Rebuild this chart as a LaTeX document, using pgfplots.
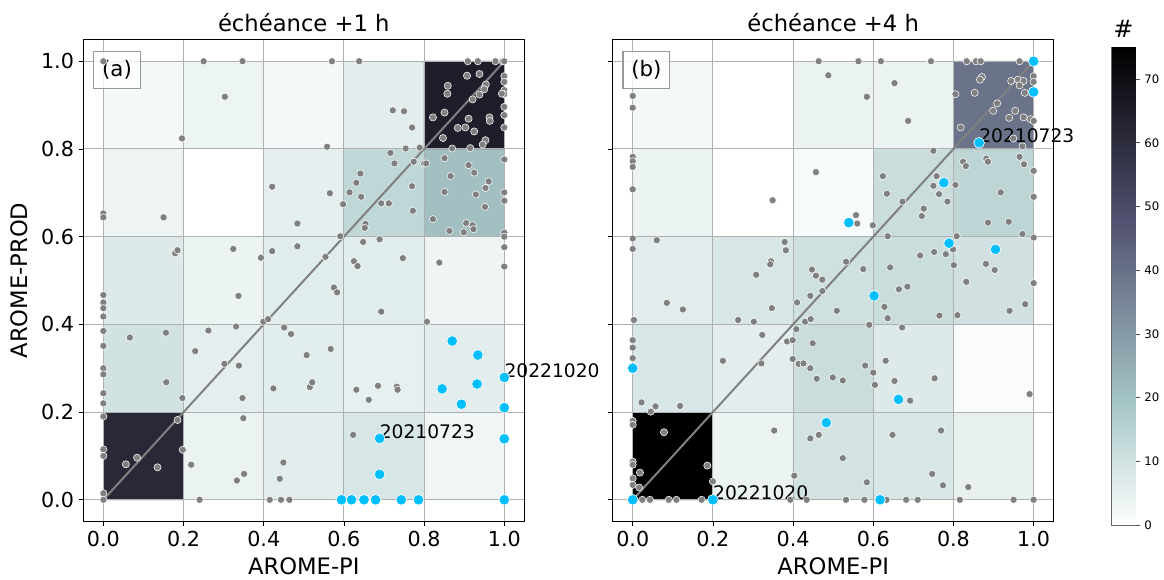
\documentclass[border=0pt]{standalone}
\usepackage{pgfplots}
\pgfplotsset{compat=1.18}
\usepackage{fontspec}
\setmainfont{DejaVu Sans}
\definecolor{ptgrey}{RGB}{128,128,128}
\definecolor{ptblue}{RGB}{0,191,255}
\definecolor{gridc}{RGB}{176,176,176}
\tikzset{
  boxlab/.style={draw=black!40, fill=white, fill opacity=0.8, text opacity=1, line width=0.8pt, minimum width=35pt, minimum height=27.5pt, inner sep=0pt, font=\fontsize{16}{19}\selectfont},
  datelab/.style={anchor=base west, inner sep=0pt, font=\fontsize{14}{16}\selectfont},
}
\pgfplotsset{
  colormap={boner}{rgb(0pt)=(1,1,1); rgb(25.3968pt)=(0.652778,0.777778,0.777778); rgb(63.4921pt)=(0.319444,0.319444,0.444444); rgb(100pt)=(0,0,0)},
  panel/.style={
    set layers, scale only axis, width=330.75pt, height=361.8pt, clip=false,
    xmin=-0.05, xmax=1.05, ymin=-0.05, ymax=1.05,
    xtick={0,0.2,0.4,0.6,0.8,1}, ytick={0,0.2,0.4,0.6,0.8,1},
    xticklabels={0.0,0.2,0.4,0.6,0.8,1.0},
    tick align=outside, tick pos=left, major tick length=3.5pt,
    grid=major, grid style={gridc, line width=0.8pt},
    colormap name=boner, point meta min=0, point meta max=75,
    tick label style={font=\fontsize{15.5}{18}\selectfont},
    axis line style={black, line width=0.6pt},
    tick style={black, line width=0.6pt},
    every axis title/.style={at={(axis description cs:0.5,1)}, anchor=base, yshift=6pt, font=\fontsize{17}{20}\selectfont},
    every axis x label/.style={at={(axis description cs:0.5,-0.1084)}, anchor=base, font=\fontsize{17}{20}\selectfont},
    every axis y label/.style={at={(axis description cs:-0.1276,0.5)}, rotate=90, anchor=base, font=\fontsize{17}{20}\selectfont},
  },
  greypts/.style={only marks, mark=*, mark size=2.7pt, mark options={fill=ptgrey, draw=white, line width=0.4pt}},
  bluepts/.style={only marks, mark=*, mark size=4pt, mark options={fill=ptblue, draw=white, line width=0.5pt}},
  diag/.style={ptgrey, line width=1.5pt},
}
\begin{document}
\begin{tikzpicture}

% ---------------- panel (a)
\begin{axis}[panel, at={(62.5pt,43.7pt)}, anchor=south west,
  title={échéance +1 h}, xlabel={AROME-PI}, ylabel={AROME-PROD},
  yticklabels={0.0,0.2,0.4,0.6,0.8,1.0}]
\addplot[matrix plot*, mesh/cols=5, point meta=explicit, on layer=axis background] table[meta=c] {
x y c
0.1 0.1 61.6
0.3 0.1 4.5
0.5 0.1 6
0.7 0.1 8.5
0.9 0.1 3.3
0.1 0.3 9.8
0.3 0.3 5.7
0.5 0.3 6.2
0.7 0.3 5.2
0.9 0.3 6
0.1 0.5 7
0.3 0.5 4
0.5 0.5 6.5
0.7 0.5 6.5
0.9 0.5 3.5
0.1 0.7 3.6
0.3 0.7 0
0.5 0.7 5.5
0.7 0.7 13.6
0.9 0.7 20.6
0.1 0.9 2.3
0.3 0.9 3.8
0.5 0.9 2.3
0.7 0.9 6
0.9 0.9 64.9
};
\addplot[diag] coordinates {(0,0) (1,1)};
\addplot[greypts] coordinates {
(0,1) (0.25,1) (0.347,1) (0.57,1) (0.638,1) (0.909,1) (0.934,1) (0.978,1) (0.996,1) (1,1)
(0.303,0.919) (0.196,0.824) (0.722,0.888) (0.75,0.886) (0.77,0.849) (0.558,0.805) (0.754,0.801) (0.789,0.803)
(0.907,0.967) (0.938,0.971) (0.859,0.944) (0.858,0.926) (0.954,0.947) (0.95,0.936) (0.938,0.924) (0.921,0.913)
(0.851,0.883) (0.822,0.872) (0.911,0.869) (0.963,0.872) (0.964,0.864) (0.884,0.848) (0.903,0.849) (0.925,0.84)
(0.847,0.825) (0.953,0.82) (0.946,0.81) (0.87,0.801) (0.915,0.802)
(1,0.966) (1,0.953) (1,0.934) (1,0.925) (1,0.896) (1,0.877) (1,0.849) (0.994,0.926)
(0.716,0.791) (0.726,0.767) (0.774,0.771) (0.8,0.767) (0.805,0.767) (0.851,0.779) (0.911,0.763) (0.925,0.746)
(0.866,0.738) (0.961,0.726) (0.953,0.711) (0.851,0.702) (0.929,0.696) (0.952,0.668) (0.822,0.64) (0.863,0.613)
(0.905,0.631) (0.921,0.626) (0.923,0.617) (0.899,0.61) (1,0.776) (1,0.701) (1,0.682) (1,0.609) (1,0.6)
(0.641,0.744) (0.631,0.723) (0.614,0.701) (0.643,0.691) (0.598,0.674) (0.693,0.676) (0.712,0.676) (0.77,0.715)
(0.772,0.659) (0.654,0.629) (0.652,0.62) (0.591,0.601) (0.565,0.699) (0.421,0.714) (0.484,0.63) (0,0.653) (0,0.644) (0.15,0.644)
(0.648,0.588) (0.689,0.594) (0.179,0.562) (0.185,0.569) (0.324,0.572) (0.393,0.552) (0.421,0.567) (0.484,0.578)
(0.554,0.554) (0.625,0.544) (0.634,0.533) (0.747,0.551) (0.838,0.541) (1,0.576) (1,0.532) (0.575,0.484) (0.583,0.473)
(0.337,0.465) (0.693,0.429) (0.807,0.406)
(0,0.467) (0,0.45) (0,0.437) (0,0.418) (0,0.385) (0,0.351) (0,0.3) (0,0.286) (0,0.243) (0,0.22) (0,0.19) (0,0.115) (0,0.1) (0,0.015) (0,0)
(0.066,0.37) (0.156,0.381) (0.157,0.268) (0.262,0.386) (0.331,0.395) (0.399,0.406) (0.411,0.412) (0.451,0.393) (0.468,0.378)
(0.229,0.339) (0.302,0.31) (0.338,0.306) (0.507,0.33) (0.567,0.344) (0.424,0.254) (0.515,0.257) (0.521,0.268)
(0.347,0.232) (0.197,0.232) (0.631,0.251) (0.662,0.228) (0.685,0.26) (0.732,0.258) (0.734,0.251) (0.349,0.186)
(0.185,0.182) (0.623,0.148) (0.198,0.114) (0.219,0.08) (0.056,0.081) (0.084,0.096) (0.135,0.074) (0.449,0.085)
(0.44,0.048) (0.333,0.044) (0.351,0.059) (0.24,0) (0.415,0) (0.443,0) (0.464,0)
};
\addplot[bluepts] coordinates {
(0.87,0.362) (0.934,0.33) (0.845,0.253) (0.932,0.264) (0.893,0.218) (1,0.279) (1,0.21) (1,0.139) (1,0)
(0.689,0.14) (0.689,0.058) (0.594,0) (0.619,0) (0.65,0) (0.679,0) (0.743,0) (0.786,0)
};
\node[datelab] at (axis cs:0.689,0.14) {20210723};
\node[datelab] at (axis cs:1,0.279) {20221020};
\node[boxlab] at (axis cs:0.034,0.98) {(a)};
\end{axis}

% ---------------- panel (b)
\begin{axis}[panel, at={(459.5pt,43.7pt)}, anchor=south west,
  title={échéance +4 h}, xlabel={AROME-PI}, yticklabels={}]
\addplot[matrix plot*, mesh/cols=5, point meta=explicit, on layer=axis background] table[meta=c] {
x y c
0.1 0.1 75
0.3 0.1 4.2
0.5 0.1 9.5
0.7 0.1 8.5
0.9 0.1 5
0.1 0.3 8.5
0.3 0.3 6
0.5 0.3 11.5
0.7 0.3 7
0.9 0.3 1
0.1 0.5 6.3
0.3 0.5 8.5
0.5 0.5 10.5
0.7 0.5 11.5
0.9 0.5 10
0.1 0.7 4
0.3 0.7 0
0.5 0.7 1.7
0.7 0.7 11.5
0.9 0.7 14
0.1 0.9 2.3
0.3 0.9 0
0.5 0.9 4.5
0.7 0.9 4
0.9 0.9 39.5
};
\addplot[diag] coordinates {(0,0) (1,1)};
\addplot[greypts] coordinates {
(0.464,1) (0.563,1) (0.619,1) (0.744,1) (0.833,1) (0.856,1) (0.868,1) (0.965,1)
(0.488,0.968) (0.653,0.95) (0.584,0.919) (0.687,0.864) (0.75,0.796)
(0,0.921) (0,0.894) (0,0.782) (0,0.772) (0,0.759) (0,0.708) (0,0.596) (0,0.572)
(0.06,0.592) (0.457,0.747) (0.349,0.683)
(0.871,0.964) (0.866,0.958) (0.853,0.928) (0.805,0.925) (0.944,0.955) (0.961,0.958) (0.975,0.955) (0.965,0.945)
(0.978,0.928) (1,0.966) (1,0.953) (0.909,0.904) (0.899,0.887) (0.954,0.887) (0.939,0.871) (0.975,0.872)
(0.992,0.868) (1,0.864) (0.818,0.849) (0.949,0.824) (0.972,0.806)
(0.824,0.771) (0.831,0.761) (0.882,0.778) (0.886,0.771) (0.965,0.782) (0.976,0.765) (1,0.75) (1,0.691)
(0.918,0.701) (0.886,0.632) (0.938,0.634) (0.972,0.606) (1,0.598) (0.805,0.718) (0.624,0.738) (0.634,0.698)
(0.75,0.716) (0.758,0.738) (0.764,0.697) (0.785,0.68) (0.673,0.68) (0.726,0.664) (0.721,0.647) (0.557,0.649)
(0.56,0.63) (0.599,0.626) (0.636,0.601) (0.808,0.601)
(0.379,0.588) (0.382,0.569) (0.345,0.544) (0.343,0.537) (0.308,0.513) (0.447,0.525) (0.457,0.511) (0.473,0.502)
(0.532,0.543) (0.575,0.526) (0.642,0.53) (0.717,0.557) (0.752,0.565) (0.781,0.56) (0.799,0.571) (0.801,0.535)
(0.881,0.538) (0.903,0.524) (0.832,0.497) (1,0.494) (0.664,0.48) (0.685,0.486) (0.628,0.44) (0.636,0.414)
(0.672,0.393) (0.765,0.42) (0.81,0.421) (0.94,0.431) (0.979,0.446) (0.41,0.45) (0.443,0.465) (0.473,0.476)
(0.509,0.431) (0.347,0.437) (0.085,0.449) (0.125,0.434) (0.003,0.41)
(0.263,0.41) (0.302,0.406) (0.43,0.406) (0.444,0.412) (0.408,0.389) (0.323,0.376) (0.385,0.361) (0.399,0.364)
(0.449,0.357) (0.59,0.399) (0,0.364) (0,0.347) (0,0.323) (0.225,0.317) (0.321,0.311) (0.399,0.321) (0.414,0.31)
(0.426,0.311) (0.443,0.3) (0.459,0.276) (0.499,0.279) (0.524,0.272) (0.58,0.306) (0.6,0.29) (0.604,0.262)
(0.631,0.317) (0.653,0.271) (0.753,0.277) (0.692,0.226) (0.99,0.241) (0.022,0.222) (0.045,0.201) (0.057,0.213) (0.118,0.214)
(0,0.18) (0,0.171) (0.078,0.154) (0.353,0.158) (0.443,0.14) (0.464,0.148) (0.524,0.095) (0.648,0.148) (0.769,0.158)
(0.403,0.055) (0.584,0.04) (0.747,0.059) (0.774,0.033) (0.837,0.029) (0,0.087) (0,0.08) (0.018,0.062) (0,0.049)
(0,0.034) (0.016,0.028) (0.186,0.078) (0.2,0.042)
(0.024,0) (0.043,0) (0.09,0) (0.109,0) (0.172,0) (0.393,0) (0.434,0) (0.532,0) (0.578,0) (0.633,0) (0.682,0)
(0.711,0) (0.816,0) (0.95,0) (1,0)
};
\addplot[bluepts] coordinates {
(1,1) (1,0.93) (0.864,0.814) (0.776,0.723) (0.539,0.632) (0.789,0.585) (0.905,0.571) (0.602,0.465)
(0,0.3) (0.663,0.229) (0.483,0.176) (0,0) (0.2,0) (0.617,0)
};
\node[datelab] at (axis cs:0.864,0.814) {20210723};
\node[datelab] at (axis cs:0.2,0) {20221020};
\node[boxlab] at (axis cs:0.034,0.98) {(b)};
\end{axis}

% ---------------- colorbar
\begin{axis}[at={(833.8pt,41.25pt)}, anchor=south west, scale only axis,
  width=17.5pt, height=358.3pt, xmin=0, xmax=1, ymin=0, ymax=75,
  colormap name=boner, point meta min=0, point meta max=75,
  xtick=\empty, ytick={0,10,20,30,40,50,60,70},
  yticklabels={0,10,20,30,40,50,60,70},
  yticklabel pos=right, ytick pos=right, tick align=outside, major tick length=3.5pt,
  tick label style={font=\fontsize{8.8}{10}\selectfont},
  axis line style={black!60, line width=0.6pt}, tick style={black!70, line width=0.6pt},
  title={\#}, every axis title/.style={at={(axis description cs:0.5,1)}, anchor=base, yshift=7pt, font=\fontsize{18}{21}\selectfont}]
\addplot[surf, shader=interp, mesh/cols=2, point meta=y] table {
x y
0 0
1 0
0 75
1 75
};
\end{axis}
\pgfresetboundingbox
\path (0,0) rectangle (873pt,435pt);
\end{tikzpicture}
\end{document}
